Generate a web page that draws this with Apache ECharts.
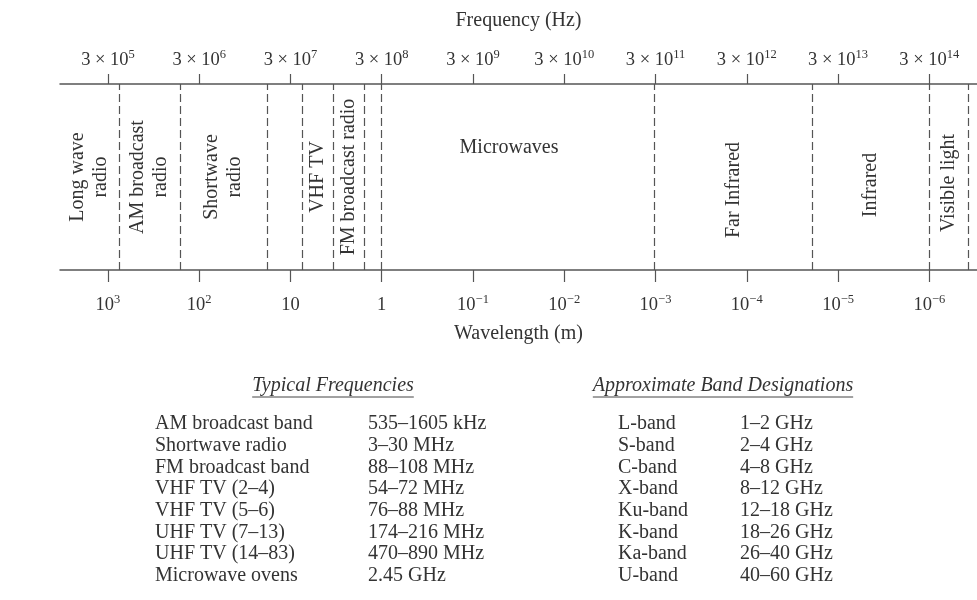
<!DOCTYPE html>
<html><head><meta charset="utf-8">
<script src="https://cdn.jsdelivr.net/npm/echarts@6/dist/echarts.min.js"></script>
<style>html,body{margin:0;padding:0;background:#fff}#c{width:977px;height:600px}</style>
</head><body><div id="c"></div>
<script>
// ---- data ----
const freqTicks = [3e5, 3e6, 3e7, 3e8, 3e9, 3e10, 3e11, 3e12, 3e13, 3e14];
const wavelengthTicks = [1e3, 1e2, 1e1, 1, 1e-1, 1e-2, 1e-3, 1e-4, 1e-5, 1e-6];
const freqMin = 8.94e4, freqMax = 1e15;
const boundaryFreqs = [3.96e5, 1.84e6, 1.65e7, 4.0e7, 8.74e7, 1.91e8, 3e8, 2.9e11, 1.58e13, 3e14, 8.07e14];
const bandNames = ['Long wave\nradio', 'AM broadcast\nradio', 'Shortwave\nradio', 'VHF TV', 'FM broadcast radio', 'Microwaves', 'Far Infrared', 'Infrared', 'Visible light'];
const bandStart = [8.94e4, 3.96e5, 1.84e6, 4.0e7, 8.74e7, 1.91e8, 2.9e11, 1.58e13, 3e14];
const bandEnd   = [3.96e5, 1.84e6, 1.65e7, 8.74e7, 1.91e8, 2.9e11, 1.58e13, 3e14, 8.07e14];
const typicalTitle = 'Typical Frequencies';
const typicalNames = ['AM broadcast band', 'Shortwave radio', 'FM broadcast band', 'VHF TV (2–4)', 'VHF TV (5–6)', 'UHF TV (7–13)', 'UHF TV (14–83)', 'Microwave ovens'];
const typicalValues = ['535–1605 kHz', '3–30 MHz', '88–108 MHz', '54–72 MHz', '76–88 MHz', '174–216 MHz', '470–890 MHz', '2.45 GHz'];
const designTitle = 'Approximate Band Designations';
const designNames = ['L-band', 'S-band', 'C-band', 'X-band', 'Ku-band', 'K-band', 'Ka-band', 'U-band'];
const designValues = ['1–2 GHz', '2–4 GHz', '4–8 GHz', '8–12 GHz', '12–18 GHz', '18–26 GHz', '26–40 GHz', '40–60 GHz'];

// ---- styles ----
const FONT = '"Liberation Serif", "Times New Roman", serif';
const INK = '#333';
const LINE = '#555';
const bandLabelStyle = {
  'Microwaves': { rotate: 0, dy: -29 },
  'Far Infrared': { dy: 13 },
  'Infrared': { dy: 8 },
  'Visible light': { dy: 6 }
};

const richLbl = {
  b: { fontSize: 18.5, fontFamily: FONT, color: INK, lineHeight: 24 },
  s: { fontSize: 12.5, fontFamily: FONT, color: INK, lineHeight: 12, verticalAlign: 'top' }
};
function supStr(e) { return e < 0 ? '−' + (-e) : String(e); }

const chart = echarts.init(document.getElementById('c'));

function renderBand(params, api) {
  const name = bandNames[params.dataIndex];
  const p0 = api.coord([api.value(0), 0]);
  const p1 = api.coord([api.value(1), 1]);
  const cx = (p0[0] + p1[0]) / 2, cy = (p0[1] + p1[1]) / 2;
  const st = bandLabelStyle[name] || {};
  return {
    type: 'text',
    x: cx, y: cy + (st.dy || 0),
    rotation: st.rotate === 0 ? 0 : Math.PI / 2,
    style: { text: name, align: 'center', verticalAlign: 'middle', fill: INK,
      font: '20px ' + FONT, lineHeight: 23 }
  };
}

// tables
const ctx = document.createElement('canvas').getContext('2d');
function textW(t, font) { ctx.font = font; return ctx.measureText(t).width; }
const graphics = [];
const rowY0 = 424, rowStep = 21.7;
const TFONT = '20px ' + FONT;
function addTable(title, titleCx, names, values, x1, x2) {
  const tf = 'italic 20px ' + FONT;
  const w = textW(title, tf);
  graphics.push({ type: 'text', x: titleCx, y: 386, style: { text: title, font: tf, fill: INK, align: 'center', verticalAlign: 'middle' } });
  graphics.push({ type: 'line', shape: { x1: titleCx - w / 2, y1: 397, x2: titleCx + w / 2, y2: 397 }, style: { stroke: '#444', lineWidth: 1 } });
  names.forEach((n, i) => {
    const y = rowY0 + i * rowStep;
    graphics.push({ type: 'text', x: x1, y, style: { text: n, font: TFONT, fill: INK, align: 'left', verticalAlign: 'middle' } });
    graphics.push({ type: 'text', x: x2, y, style: { text: values[i], font: TFONT, fill: INK, align: 'left', verticalAlign: 'middle' } });
  });
}
addTable(typicalTitle, 333, typicalNames, typicalValues, 155, 368);
addTable(designTitle, 723, designNames, designValues, 618, 740);

chart.setOption({
  animation: false,
  backgroundColor: '#fff',
  grid: { left: 60, right: 0, top: 84, bottom: 330 },
  xAxis: [
    {
      type: 'log', position: 'top', min: freqMin, max: freqMax,
      name: 'Frequency (Hz)', nameLocation: 'middle', nameGap: 53, nameMoveOverlap: false,
      nameTextStyle: { fontFamily: FONT, fontSize: 20, color: INK },
      axisLine: { show: true, onZero: false, lineStyle: { color: LINE, width: 1.5 } },
      axisTick: { show: true, customValues: freqTicks, length: 10, lineStyle: { color: LINE, width: 1.2 } },
      splitLine: { show: false }, minorTick: { show: false },
      axisLabel: { customValues: freqTicks, margin: 12, rich: richLbl,
        formatter: v => '{b|3 × 10}{s|' + supStr(Math.round(Math.log10(v / 3))) + '}' }
    },
    {
      type: 'log', position: 'bottom', inverse: true, min: 3e8 / freqMax, max: 3e8 / freqMin,
      name: 'Wavelength (m)', nameLocation: 'middle', nameGap: 54, nameMoveOverlap: false,
      nameTextStyle: { fontFamily: FONT, fontSize: 20, color: INK },
      axisLine: { show: true, onZero: false, lineStyle: { color: LINE, width: 1.5 } },
      axisTick: { show: true, customValues: wavelengthTicks, length: 12, lineStyle: { color: LINE, width: 1.2 } },
      splitLine: { show: false }, minorTick: { show: false },
      axisLabel: { customValues: wavelengthTicks, margin: 23, rich: richLbl,
        formatter: v => { const e = Math.round(Math.log10(v)); if (e === 0) return '{b|1}'; if (e === 1) return '{b|10}'; return '{b|10}{s|' + supStr(e) + '}'; } }
    }
  ],
  yAxis: { type: 'value', min: 0, max: 1, show: false },
  graphic: graphics,
  series: [{
    type: 'custom', xAxisIndex: 0, yAxisIndex: 0,
    data: bandStart.map((s, i) => [s, bandEnd[i], 0.5]),
    encode: { x: [0, 1], y: 2 },
    renderItem: renderBand,
    silent: true,
    markLine: {
      silent: true, symbol: ['none', 'none'], label: { show: false },
      lineStyle: { type: [8, 4], color: LINE, width: 1.2 },
      emphasis: { disabled: true },
      data: boundaryFreqs.map(f => ({ xAxis: f }))
    }
  }]
});
</script></body></html>
